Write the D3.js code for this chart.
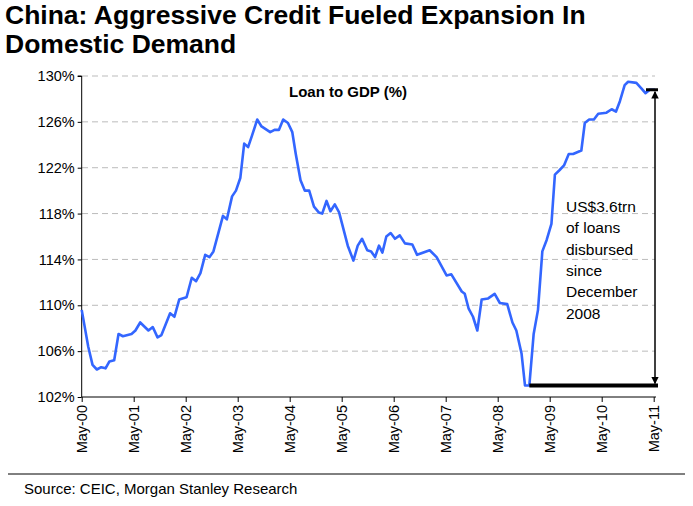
<!DOCTYPE html>
<html><head><meta charset="utf-8">
<script src="https://cdn.jsdelivr.net/npm/d3@7"></script>
<style>body{margin:0;background:#fff;font-family:Arial,"Liberation Sans",sans-serif}</style>
</head><body><div id="chart"></div>
<script>
// months since May-2000, loan to GDP (%)
var months = [0,1.5,2.5,3.5,4.5,5.5,6.4,7.5,8.5,9.5,11.5,12.4,13.5,15.4,16.4,17.5,18.4,20.4,21.4,22.5,24.2,25.4,26.4,27.4,28.5,29.5,30.4,32.6,33.5,34.7,35.6,36.6,37.5,38.4,39.3,40.5,41.5,43.5,44.5,45.5,46.5,47.6,48.6,49.4,50.5,51.5,52.5,53.6,54.7,55.5,56.5,57.4,58.4,59.4,61.4,62.7,63.7,64.7,65.9,66.8,67.7,68.6,69.4,70.3,71.3,72.3,73.4,74.6,76.3,77.4,80.3,81.9,84.2,85.3,87.7,88.4,89.3,90.3,91.3,92.3,93.8,95.3,96.5,98.2,99.4,100.3,101.5,102.3,103.3,104.3,105.3,106.3,107.3,108.4,109.2,110.3,111.3,112.4,113.4,115.3,116.1,117.1,118.2,119.2,121.1,122.3,123.3,124.2,125.3,126.1,128,129.2,130.1,131.1,132.3];
var values = [109.6,106.4,104.8,104.4,104.6,104.5,105.1,105.2,107.5,107.3,107.5,107.8,108.5,107.8,108.1,107.2,107.4,109.3,109.0,110.5,110.7,112.4,112.1,112.8,114.4,114.2,114.7,117.8,117.5,119.5,120.0,121.1,124.1,123.8,124.8,126.2,125.6,125.1,125.3,125.3,126.2,125.9,125.1,123.2,120.9,120.0,120.0,118.6,118.1,118.0,119.1,118.2,118.8,118.1,115.2,113.9,115.2,115.8,114.8,114.7,114.2,115.2,114.6,116.0,116.3,115.8,116.1,115.4,115.3,114.4,114.8,114.2,112.6,112.7,111.2,111.0,109.7,109.0,107.8,110.5,110.6,111.0,110.2,110.1,108.5,107.8,105.8,103.0,103.0,107.5,109.6,114.7,115.7,117.1,121.4,121.8,122.2,123.2,123.2,123.5,125.9,126.2,126.2,126.7,126.8,127.1,126.9,127.8,129.2,129.5,129.4,128.9,128.5,128.8,128.8];
var tickMonths = [0,12,24,36,48,60,72,84,96,108,120,132];
var tickLabels = ["May-00","May-01","May-02","May-03","May-04","May-05","May-06","May-07","May-08","May-09","May-10","May-11"];
var yTicks = [102,106,110,114,118,122,126,130];
var noteLines = ["US$3.6trn","of loans","disbursed","since","December","2008"];

var W = 693, H = 506;
var svg = d3.select("#chart").append("svg").attr("width", W).attr("height", H);

// title
svg.append("text").attr("x", 5).attr("y", 24).attr("font-size", 26.5).attr("font-weight", "bold")
  .text("China: Aggressive Credit Fueled Expansion In");
svg.append("text").attr("x", 5).attr("y", 53).attr("font-size", 26.5).attr("font-weight", "bold")
  .text("Domestic Demand");

var x = d3.scaleLinear().domain([0, 132]).range([81.7, 653.7]);
var y = d3.scaleLinear().domain([102, 130]).range([397, 76]);

// grid
svg.append("g").selectAll("line").data(yTicks.slice(1)).join("line")
  .attr("x1", 82).attr("x2", 655).attr("y1", d => y(d)).attr("y2", d => y(d))
  .attr("stroke", "#bbb").attr("stroke-dasharray", "6,4");

var yAxis = svg.append("g").attr("transform", "translate(81.7,0)")
  .call(d3.axisLeft(y).tickValues(yTicks).tickFormat(d => d + "%").tickSize(4));
yAxis.selectAll("text").attr("font-size", 14.5).attr("font-family", "Arial").attr("fill", "#000");
yAxis.select(".domain").attr("d", "M-4,76H0V397");

var xAxis = svg.append("g").attr("transform", "translate(0,397)")
  .call(d3.axisBottom(x).tickValues(tickMonths).tickFormat((d, i) => tickLabels[i]).tickSize(5).tickSizeOuter(0));
xAxis.select(".domain").attr("d", "M81.7,0H656");
xAxis.selectAll("text").attr("font-size", 14.5).attr("font-family", "Arial").attr("fill", "#000")
  .attr("transform", "rotate(-90)").attr("text-anchor", "end").attr("dy", "0.35em").attr("x", -8).attr("y", 0);

// line
var line = d3.line().x((d, i) => x(months[i])).y(d => y(d));
svg.append("path").datum(values).attr("d", line).attr("fill", "none")
  .attr("stroke", "#3366ff").attr("stroke-width", 2.6).attr("stroke-linejoin", "round");

svg.append("text").attr("x", 348).attr("y", 97).attr("text-anchor", "middle")
  .attr("font-size", 15).attr("font-weight", "bold").text("Loan to GDP (%)");

// annotation
var lastM = months[months.length - 1], lastV = values[values.length - 1];
svg.append("line").attr("x1", x(103.3)).attr("x2", x(lastM) + 3).attr("y1", y(103)).attr("y2", y(103))
  .attr("stroke", "#000").attr("stroke-width", 4);
svg.append("line").attr("x1", x(lastM) - 9).attr("x2", x(lastM) + 3).attr("y1", y(lastV)).attr("y2", y(lastV))
  .attr("stroke", "#000").attr("stroke-width", 3);
var defs = svg.append("defs");
defs.append("marker").attr("id", "ah").attr("viewBox", "0 0 10 10").attr("refX", 9).attr("refY", 5)
  .attr("markerWidth", 5).attr("markerHeight", 5).attr("orient", "auto-start-reverse")
  .append("path").attr("d", "M0,0L10,5L0,10z").attr("fill", "#000");
svg.append("line").attr("x1", x(lastM)).attr("x2", x(lastM)).attr("y1", y(lastV) + 2).attr("y2", y(103) - 2)
  .attr("stroke", "#000").attr("stroke-width", 1.5)
  .attr("marker-start", "url(#ah)").attr("marker-end", "url(#ah)");
svg.append("g").selectAll("text").data(noteLines).join("text")
  .attr("x", 566).attr("y", (d, i) => 212 + i * 21.3).attr("font-size", 15.5).text(d => d);

// source
svg.append("line").attr("x1", 8).attr("x2", 685).attr("y1", 474).attr("y2", 474).attr("stroke", "#000");
svg.append("text").attr("x", 24).attr("y", 494).attr("font-size", 15).text("Source: CEIC, Morgan Stanley Research");
</script></body></html>
